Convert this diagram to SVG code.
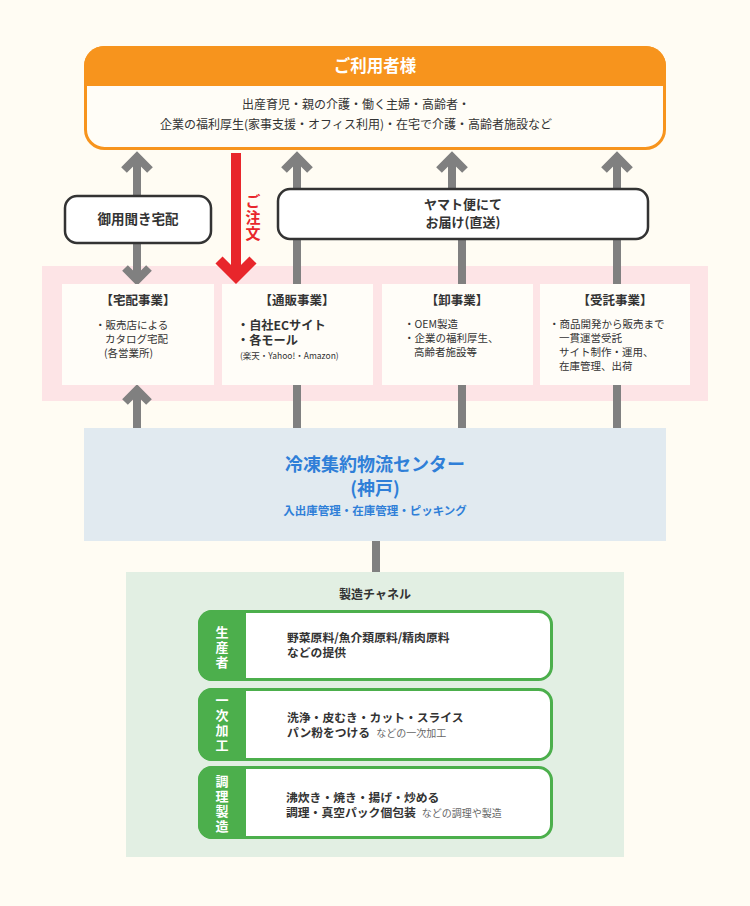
<svg xmlns="http://www.w3.org/2000/svg" width="750" height="906" viewBox="0 0 750 906">
<style>
text{font-family:"Noto Sans CJK JP","Noto Sans",sans-serif;fill:#333}
.c{text-anchor:middle}
.b{font-weight:bold}
.v{writing-mode:vertical-rl;text-anchor:middle}
.ar{fill:none;stroke:#808080;stroke-width:8;stroke-linejoin:miter}
.card{fill:#fffdf8}
.t{font-size:12.5px;font-weight:bold}
.s{font-size:10.5px}
.tab{fill:#fff;font-size:13px;font-weight:bold;letter-spacing:2px}
.row{fill:#fff;stroke:#4caf4c;stroke-width:3}
.g{fill:#4caf4c}
.rt{font-size:11.8px;font-weight:bold}
.sm{font-size:10px;fill:#666;font-weight:normal}
</style>
<rect width="750" height="906" fill="#fffcf3"/>

<rect x="42" y="266" width="666" height="135" fill="#fde4e6"/>

<g id="connectors">
<path class="ar" d="M137,195V160M124,170L137,157L150,170"/>
<path class="ar" d="M297,188V160M284,170L297,157L310,170"/>
<path class="ar" d="M452,188V160M439,170L452,157L465,170"/>
<path class="ar" d="M617,188V160M604,170L617,157L630,170"/>
<path class="ar" d="M137,243V276M125,268L137,280L149,268"/>
<path class="ar" d="M297,239V284M462,239V284M617,239V284"/>
<path class="ar" d="M137,428V394M125,402L137,390L149,402"/>
<path class="ar" d="M297,385V428M462,385V428M617,385V428"/>
<path class="ar" d="M376,541V572"/>
<path d="M236,153V272M219,260L236,277L253,260" fill="none" stroke="#e8262b" stroke-width="10"/>
</g>

<g id="users">
<rect x="85.5" y="47.5" width="579" height="101" rx="19" fill="#fffdf7" stroke="#f7941d" stroke-width="3"/>
<path d="M84,86V66A20,20 0 0 1 104,46H646A20,20 0 0 1 666,66V86Z" fill="#f7941d"/>
<text x="375" y="72" class="c b" style="font-size:16.5px;fill:#fff">ご利用者様</text>
<text x="356" y="109" class="c" style="font-size:12px">出産育児・親の介護・働く主婦・高齢者・</text>
<text x="356" y="129" class="c" style="font-size:12px">企業の福利厚生(家事支援・オフィス利用)・在宅で介護・高齢者施設など</text>
</g>

<g id="order-label">
<text x="253" y="218" class="v b" style="font-size:15px;fill:#e8262b;letter-spacing:1px">ご注文</text>
</g>

<g id="goyoukiki">
<rect x="65" y="196" width="146" height="47" rx="12" fill="#fff" stroke="#333" stroke-width="2.5"/>
<text x="138" y="224" class="c b" style="font-size:13.5px">御用聞き宅配</text>
</g>

<g id="yamato">
<rect x="278" y="189" width="370" height="50" rx="12" fill="#fff" stroke="#333" stroke-width="2.5"/>
<text x="463" y="209" class="c b" style="font-size:13px">ヤマト便にて</text>
<text x="463" y="227" class="c b" style="font-size:13px">お届け(直送)</text>
</g>

<g id="takuhai">
<rect class="card" x="62" y="284" width="152" height="101"/>
<text x="138" y="305" class="c t">【宅配事業】</text>
<text x="95" y="329" class="s">・販売店による</text>
<text x="105" y="343" class="s">カタログ宅配</text>
<text x="104" y="357" class="s">(各営業所)</text>
</g>

<g id="tsuhan">
<rect class="card" x="222" y="284" width="151" height="101"/>
<text x="297" y="305" class="c t">【通販事業】</text>
<text x="237" y="330" class="b" style="font-size:12.2px">・自社ECサイト</text>
<text x="237" y="345" class="b" style="font-size:12.2px">・各モール</text>
<text x="240" y="359" style="font-size:8.5px">(楽天・Yahoo!・Amazon)</text>
</g>

<g id="oroshi">
<rect class="card" x="382" y="284" width="151" height="101"/>
<text x="457" y="305" class="c t">【卸事業】</text>
<text x="404" y="328" class="s">・OEM製造</text>
<text x="404" y="342" class="s">・企業の福利厚生、</text>
<text x="414" y="356" class="s">高齢者施設等</text>
</g>

<g id="jutaku">
<rect class="card" x="540" y="284" width="150" height="101"/>
<text x="615" y="305" class="c t">【受託事業】</text>
<text x="549" y="328" class="s">・商品開発から販売まで</text>
<text x="559" y="342" class="s">一貫運営受託</text>
<text x="559" y="356" class="s">サイト制作・運用、</text>
<text x="559" y="370" class="s">在庫管理、出荷</text>
</g>

<g id="center">
<rect x="84" y="428" width="582" height="113" fill="#e1eaf0"/>
<text x="375" y="471" class="c b" style="font-size:18px;fill:#2f7fd8">冷凍集約物流センター</text>
<text x="375" y="495" class="c b" style="font-size:18px;fill:#2f7fd8">(神戸)</text>
<text x="375" y="515" class="c b" style="font-size:11.5px;fill:#2f7fd8">入出庫管理・在庫管理・ピッキング</text>
</g>

<g id="channel">
<rect x="126" y="572" width="498" height="285" fill="#e2efe3"/>
<text x="375" y="599" class="c b" style="font-size:12px">製造チャネル</text>
</g>

<g id="producer">
<rect class="row" x="199.5" y="611.5" width="352" height="68" rx="13"/>
<path class="g" d="M246,610V681H212A14,14 0 0 1 198,667V624A14,14 0 0 1 212,610Z"/>
<text x="222" y="648" class="v tab">生産者</text>
<text x="287" y="642" class="rt">野菜原料/魚介類原料/精肉原料</text>
<text x="287" y="657" class="rt">などの提供</text>
</g>

<g id="primary">
<rect class="row" x="199.5" y="689.5" width="352" height="70" rx="13"/>
<path class="g" d="M246,688V761H212A14,14 0 0 1 198,747V702A14,14 0 0 1 212,688Z"/>
<text x="222" y="724" class="v tab">一次加工</text>
<text x="287" y="722" class="rt">洗浄・皮むき・カット・スライス</text>
<text x="287" y="737" class="rt">パン粉をつける<tspan class="sm" dx="6">などの一次加工</tspan></text>
</g>

<g id="cooking">
<rect class="row" x="199.5" y="767.5" width="352" height="70" rx="13"/>
<path class="g" d="M246,766V839H212A14,14 0 0 1 198,825V780A14,14 0 0 1 212,766Z"/>
<text x="222" y="805" class="v tab">調理製造</text>
<text x="286" y="802" class="rt">沸炊き・焼き・揚げ・炒める</text>
<text x="286" y="817" class="rt">調理・真空パック個包装<tspan class="sm" dx="6">などの調理や製造</tspan></text>
</g>
</svg>
